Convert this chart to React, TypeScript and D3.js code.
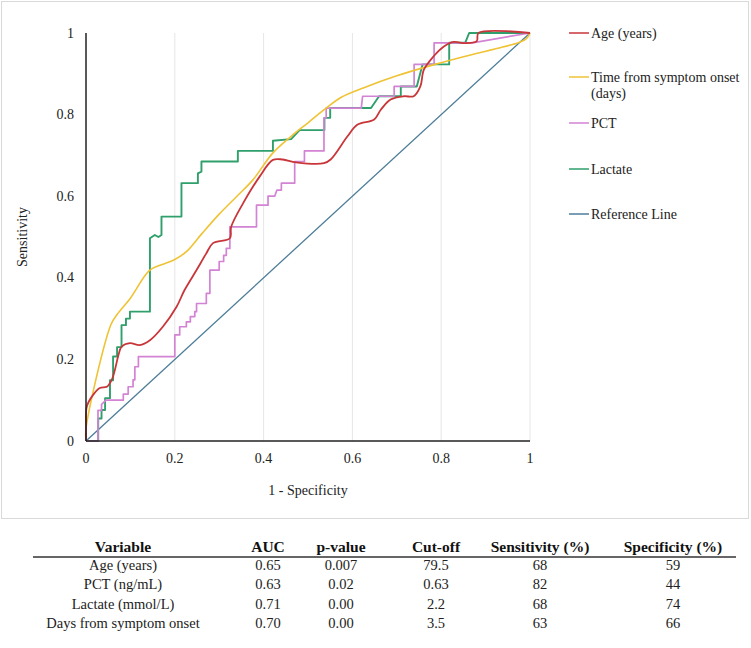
import * as d3 from 'd3'

type Pt = [number, number]

// ROC curves: [1 - specificity, sensitivity]
const ageCurve: Pt[] = [
	[0, 0], [0, 0.03], [0.002, 0.085], [0.016, 0.113], [0.031, 0.13], [0.047, 0.133],
	[0.058, 0.15], [0.065, 0.174], [0.073, 0.21], [0.08, 0.231], [0.099, 0.24],
	[0.121, 0.235], [0.144, 0.247], [0.173, 0.28], [0.204, 0.329], [0.222, 0.37],
	[0.249, 0.419], [0.27, 0.458], [0.286, 0.485], [0.324, 0.497], [0.327, 0.525],
	[0.354, 0.583], [0.391, 0.648], [0.421, 0.689], [0.443, 0.69], [0.473, 0.683],
	[0.536, 0.681], [0.551, 0.69], [0.589, 0.747], [0.611, 0.775], [0.649, 0.788],
	[0.664, 0.812], [0.686, 0.837], [0.716, 0.845], [0.738, 0.845], [0.753, 0.869],
	[0.761, 0.91], [0.783, 0.943], [0.806, 0.967], [0.828, 0.978], [0.854, 0.975],
	[0.88, 0.98], [0.884, 1], [1, 1],
]

const onsetCurve: Pt[] = [
	[0, 0], [0, 0.03], [0.056, 0.285], [0.07, 0.31], [0.1, 0.35], [0.143, 0.418],
	[0.17, 0.432], [0.2, 0.445], [0.226, 0.464], [0.26, 0.507], [0.3, 0.556],
	[0.34, 0.6], [0.376, 0.64], [0.42, 0.705], [0.46, 0.745], [0.5, 0.78],
	[0.54, 0.815], [0.574, 0.842], [0.626, 0.866], [0.7, 0.895], [0.776, 0.92],
	[0.85, 0.942], [0.925, 0.962], [0.975, 0.977], [0.992, 0.986], [1, 1],
]

const pctCurve: Pt[] = [
	[0, 0], [0.027, 0], [0.027, 0.075], [0.035, 0.075], [0.035, 0.09], [0.045, 0.1],
	[0.084, 0.1], [0.084, 0.115], [0.095, 0.115], [0.095, 0.133], [0.106, 0.133],
	[0.106, 0.15], [0.11, 0.15], [0.11, 0.182], [0.118, 0.182], [0.118, 0.207],
	[0.2, 0.207], [0.2, 0.26], [0.211, 0.26], [0.211, 0.28], [0.226, 0.28],
	[0.226, 0.292], [0.235, 0.292], [0.235, 0.305], [0.245, 0.305], [0.245, 0.317],
	[0.249, 0.317], [0.249, 0.337], [0.271, 0.337], [0.271, 0.362], [0.279, 0.362],
	[0.279, 0.419], [0.3, 0.419], [0.3, 0.44], [0.31, 0.44], [0.31, 0.455],
	[0.316, 0.455], [0.316, 0.472], [0.324, 0.472], [0.324, 0.525], [0.384, 0.525],
	[0.384, 0.578], [0.41, 0.578], [0.41, 0.6], [0.425, 0.6], [0.43, 0.615],
	[0.44, 0.615], [0.44, 0.632], [0.47, 0.632], [0.47, 0.685], [0.492, 0.685],
	[0.492, 0.711], [0.536, 0.711], [0.536, 0.792], [0.541, 0.792], [0.541, 0.816],
	[0.62, 0.816], [0.623, 0.845], [0.694, 0.845], [0.694, 0.869], [0.739, 0.869],
	[0.739, 0.923], [0.784, 0.923], [0.784, 0.976], [0.87, 0.976], [1, 1],
]

const lactateCurve: Pt[] = [
	[0, 0], [0.0275, 0], [0.0275, 0.055], [0.035, 0.055], [0.035, 0.076], [0.043, 0.076],
	[0.043, 0.105], [0.054, 0.105], [0.054, 0.149], [0.061, 0.149], [0.061, 0.207],
	[0.07, 0.207], [0.07, 0.23], [0.08, 0.23], [0.08, 0.284], [0.09, 0.284],
	[0.09, 0.3], [0.099, 0.3], [0.099, 0.317], [0.144, 0.317], [0.144, 0.497],
	[0.155, 0.505], [0.163, 0.5], [0.17, 0.505], [0.17, 0.55], [0.215, 0.55],
	[0.215, 0.632], [0.252, 0.632], [0.252, 0.656], [0.26, 0.66], [0.26, 0.685],
	[0.342, 0.685], [0.342, 0.711], [0.421, 0.711], [0.421, 0.736], [0.462, 0.74],
	[0.481, 0.762], [0.537, 0.762], [0.537, 0.792], [0.55, 0.792], [0.55, 0.816],
	[0.642, 0.816], [0.66, 0.845], [0.709, 0.845], [0.709, 0.869], [0.745, 0.869],
	[0.758, 0.923], [0.818, 0.923], [0.818, 0.976], [0.854, 0.976], [0.863, 1], [1, 1],
]

const referenceLine: Pt[] = [[0, 0], [1, 1]]

const xTicks = [0, 0.2, 0.4, 0.6, 0.8, 1]
const yTicks = [0, 0.2, 0.4, 0.6, 0.8, 1]

const tableHeader = ['Variable', 'AUC', 'p-value', 'Cut-off', 'Sensitivity (%)', 'Specificity (%)']
const tableVariables = ['Age (years)', 'PCT (ng/mL)', 'Lactate (mmol/L)', 'Days from symptom onset']
const tableAuc = ['0.65', '0.63', '0.71', '0.70']
const tablePValue = ['0.007', '0.02', '0.00', '0.00']
const tableCutoff = ['79.5', '0.63', '2.2', '3.5']
const tableSensitivity = ['68', '82', '68', '63']
const tableSpecificity = ['59', '44', '74', '66']

const series = [
	{ name: ['Age (years)'], data: ageCurve, color: '#c8363a', smooth: true, width: 1.8 },
	{ name: ['Time from symptom onset', '(days)'], data: onsetCurve, color: '#efc334', smooth: true, width: 1.6 },
	{ name: ['PCT'], data: pctCurve, color: '#d383d3', smooth: false, width: 1.7 },
	{ name: ['Lactate'], data: lactateCurve, color: '#2f9f6b', smooth: false, width: 1.9 },
	{ name: ['Reference Line'], data: referenceLine, color: '#4d7d98', smooth: false, width: 1.3 },
]

const font = "'Liberation Serif', 'Times New Roman', serif"

export default function App() {
	const left = 86
	const right = 530
	const top = 33
	const bottom = 441

	const x = d3.scaleLinear().domain([0, 1]).range([left, right])
	const y = d3.scaleLinear().domain([0, 1]).range([bottom, top])

	const smoothLine = d3
		.line<Pt>()
		.x((d) => x(d[0]))
		.y((d) => y(d[1]))
		.curve(d3.curveCatmullRom.alpha(0.5))
	const stepLine = d3
		.line<Pt>()
		.x((d) => x(d[0]))
		.y((d) => y(d[1]))

	const legendY = [33, 77, 123, 169, 214]

	// table columns
	const colX = [123, 268, 341, 436, 540, 673]
	const rows = tableVariables.map((v, i) => [
		v,
		tableAuc[i],
		tablePValue[i],
		tableCutoff[i],
		tableSensitivity[i],
		tableSpecificity[i],
	])
	const rowY = d3.range(rows.length).map((i) => 570 + i * 19.4)

	return (
		<svg
			width={751}
			height={648}
			style={{ position: 'absolute', left: 0, top: 0, background: '#fff' }}
			fontFamily={font}
		>
			<rect x={1.5} y={1.5} width={747} height={517} fill='#fff' stroke='#d9d9d9' />

			{/* vertical gridlines */}
			{xTicks.slice(1).map((t) => (
				<line key={t} x1={x(t)} x2={x(t)} y1={top} y2={bottom} stroke='#e6e6e6' strokeWidth={1} />
			))}

			{series
				.slice()
				.reverse()
				.map((s) => (
					<path
						key={s.name[0]}
						d={(s.smooth ? smoothLine : stepLine)(s.data) ?? ''}
						fill='none'
						stroke={s.color}
						strokeWidth={s.width}
						strokeLinejoin='round'
					/>
				))}

			{/* axes */}
			<line x1={left} x2={left} y1={top} y2={bottom} stroke='#222' strokeWidth={1.5} />
			<line x1={left} x2={right} y1={bottom} y2={bottom} stroke='#222' strokeWidth={1.5} />

			{yTicks.map((t) => (
				<text key={t} x={74} y={y(t) + 4.5} textAnchor='end' fontSize={14} fill='#222'>
					{t}
				</text>
			))}
			{xTicks.map((t) => (
				<text key={t} x={x(t)} y={463} textAnchor='middle' fontSize={14} fill='#222'>
					{t}
				</text>
			))}

			<text x={(left + right) / 2} y={495} textAnchor='middle' fontSize={14} fill='#222'>
				1 - Specificity
			</text>
			<text
				transform={`translate(27,${(top + bottom) / 2}) rotate(-90)`}
				textAnchor='middle'
				fontSize={14}
				fill='#222'
			>
				Sensitivity
			</text>

			{/* legend */}
			{series.map((s, i) => (
				<g key={s.name[0]}>
					<line x1={569} x2={589} y1={legendY[i]} y2={legendY[i]} stroke={s.color} strokeWidth={1.5} />
					{s.name.map((n, j) => (
						<text key={n} x={591} y={legendY[i] + 4.5 + j * 16.5} fontSize={14} fill='#222'>
							{n}
						</text>
					))}
				</g>
			))}

			{/* table */}
			{tableHeader.map((h, i) => (
				<text key={h} x={colX[i]} y={552} textAnchor='middle' fontSize={15.5} fontWeight='bold' fill='#111'>
					{h}
				</text>
			))}
			<line x1={33} x2={736} y1={557} y2={557} stroke='#333' strokeWidth={1.3} />
			{rows.map((r, i) =>
				r.map((c, j) => (
					<text key={`${i}-${j}`} x={colX[j]} y={rowY[i]} textAnchor='middle' fontSize={14.5} fill='#222'>
						{c}
					</text>
				))
			)}
		</svg>
	)
}
